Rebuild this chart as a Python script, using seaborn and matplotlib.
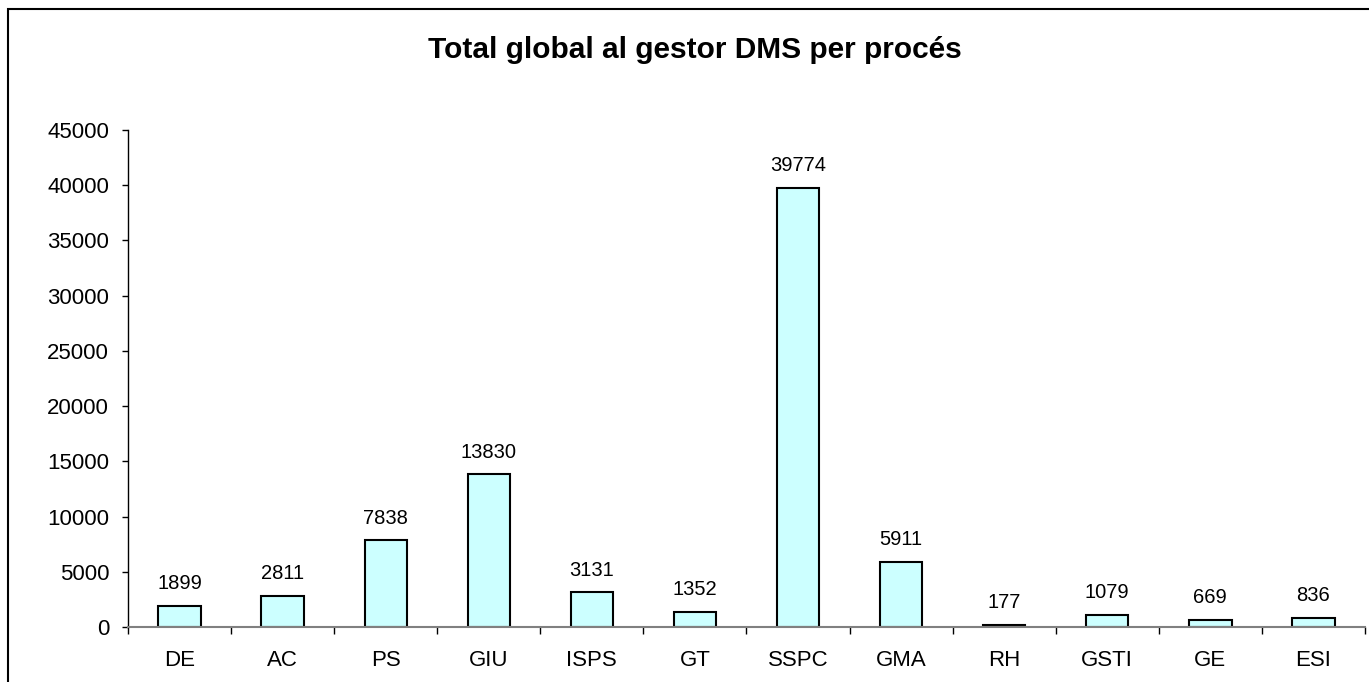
import matplotlib
matplotlib.use('Agg')
import matplotlib.pyplot as plt
import seaborn as sns
import pandas as pd
from matplotlib.patches import Rectangle
from matplotlib.ticker import FixedLocator

processes = ['DE', 'AC', 'PS', 'GIU', 'ISPS', 'GT', 'SSPC', 'GMA', 'RH', 'GSTI', 'GE', 'ESI']
totals = [1899, 2811, 7838, 13830, 3131, 1352, 39774, 5911, 177, 1079, 669, 836]
y_ticks = list(range(0, 45001, 5000))

df = pd.DataFrame({'proces': processes, 'total': totals})

sns.set_style('white')
plt.rcParams['font.family'] = ['Liberation Sans', 'DejaVu Sans']
plt.rcParams['text.color'] = 'black'
plt.rcParams['xtick.color'] = 'black'
plt.rcParams['ytick.color'] = 'black'
plt.rcParams['xtick.labelcolor'] = 'black'
plt.rcParams['ytick.labelcolor'] = 'black'

fig = plt.figure(figsize=(13.69, 6.82), dpi=100)
ax = fig.add_axes([128 / 1369, 1 - 627 / 682, (1365 - 128) / 1369, (627 - 130) / 682])

sns.barplot(data=df, x='proces', y='total', color='#CCFFFF', edgecolor='black',
            linewidth=1.5, width=0.41, saturation=1, ax=ax)

for i, v in enumerate(totals):
    ax.annotate(str(v), (i, v), xytext=(0, 12), textcoords='offset points',
                ha='center', va='baseline', fontsize=14.5, color='black')

ax.set_xlim(-0.5, len(processes) - 0.5)
ax.set_ylim(0, 45000)
ax.set_yticks(y_ticks)
ax.set_yticklabels([str(t) for t in y_ticks], fontsize=16)
ax.set_xlabel('')
ax.set_ylabel('')
ax.tick_params(axis='x', which='major', length=0, pad=16.5, labelsize=16)
ax.xaxis.set_minor_locator(FixedLocator([i - 0.5 for i in range(len(processes) + 1)]))
ax.tick_params(axis='x', which='minor', length=5, width=1, color='black', direction='out', bottom=True)
ax.tick_params(axis='y', length=4.5, width=1, color='black', direction='out', left=True, pad=9)

for side in ['top', 'right']:
    ax.spines[side].set_visible(False)
ax.spines['left'].set_color('black')
ax.spines['left'].set_linewidth(1)
ax.spines['bottom'].set_color('#808080')
ax.spines['bottom'].set_linewidth(1.5)

fig.text(695 / 1369, 1 - 50 / 682, 'Total global al gestor DMS per procés',
         ha='center', va='center', fontsize=21.5, fontweight='bold', color='black')

frame = Rectangle((8 / 1369, -0.1), 1.2, 1.1 - 9 / 682, transform=fig.transFigure,
                  fill=False, edgecolor='black', linewidth=1.5, clip_on=False)
fig.patches.append(frame)

fig.savefig('out.png', dpi=100)
